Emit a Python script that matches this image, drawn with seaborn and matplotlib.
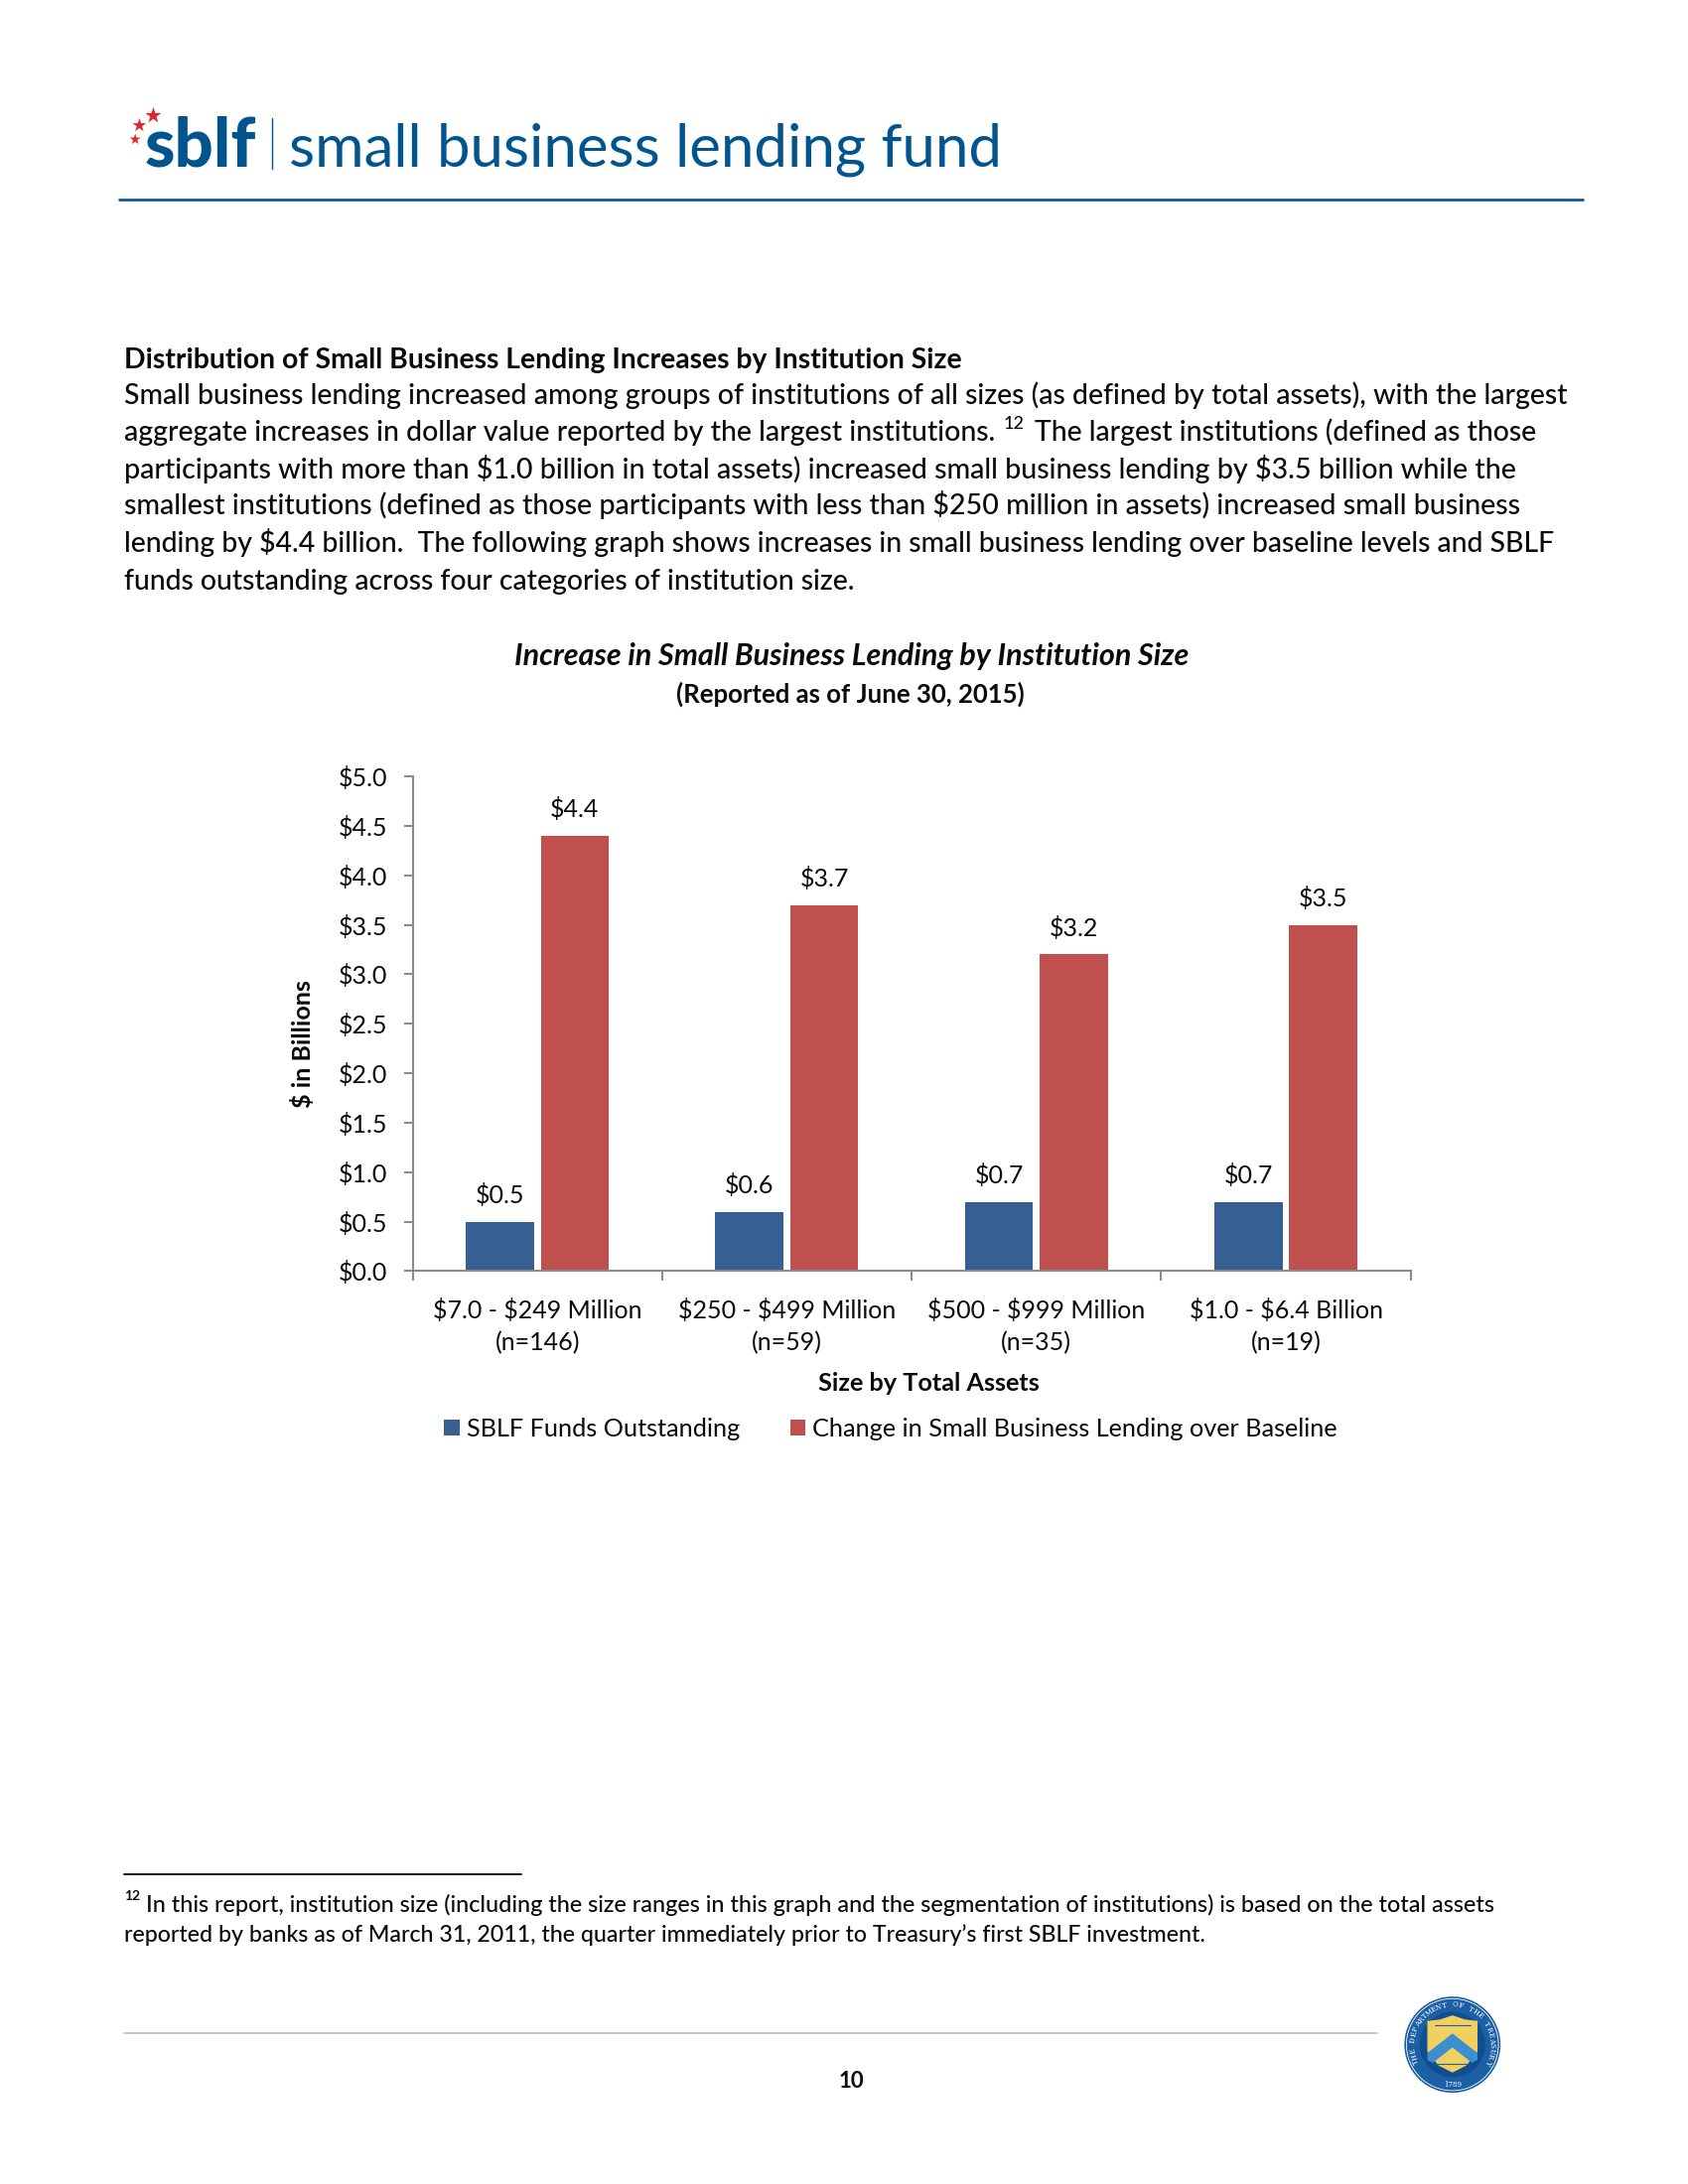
# plot.py - SBLF report page with the lending increase bar chart

import numpy as np
import pandas as pd
import matplotlib
matplotlib.use("Agg")
import matplotlib.pyplot as plt
from matplotlib.patches import Circle, Polygon
import seaborn as sns

size_labels = ["$7.0 - $249 Million\n(n=146)", "$250 - $499 Million\n(n=59)",
               "$500 - $999 Million\n(n=35)", "$1.0 - $6.4 Billion\n(n=19)"]
funds_outstanding = [0.5, 0.6, 0.7, 0.7]
lending_change = [4.4, 3.7, 3.2, 3.5]
series_names = ["SBLF Funds Outstanding", "Change in Small Business Lending over Baseline"]
y_ticks = [0.0, 0.5, 1.0, 1.5, 2.0, 2.5, 3.0, 3.5, 4.0, 4.5, 5.0]

BLUE = "#376092"
RED = "#C0504D"
LOGO = "#00558F"
GREY = "#8C8C8C"
INK = "#0A0A0A"
FONT = "Lato"
PAGE_W, PAGE_H = 1211, 1567  # page units used below
LABEL_SIZE = 18

sns.set_theme(style="white")
plt.rcParams["font.family"] = [FONT, "DejaVu Sans"]
plt.rcParams["text.parse_math"] = False

fig = plt.figure(figsize=(17, 22), dpi=100)

page = fig.add_axes([0, 0, 1, 1], zorder=0)
page.set_xlim(0, PAGE_W)
page.set_ylim(PAGE_H, 0)
page.axis("off")
renderer = fig.canvas.get_renderer()


def fit(text, x0, x1, y, **kw):
    # put a line of text so it runs from x0 to x1, hinting changes the width so measure twice
    t = page.text(x0, y, text, va="baseline", ha="left", fontsize=16, color=kw.pop("color", INK), **kw)
    target = (x1 - x0) * (1700 / PAGE_W)
    for _ in range(2):
        w = t.get_window_extent(renderer).width
        t.set_fontsize(t.get_fontsize() * target / w)
    return t


# logo
fit("sblf", 104, 184, 119, color=LOGO, fontweight="black")
page.plot([195, 195], [85, 121], color=LOGO, lw=1)
fit("small business lending fund", 207, 719, 119, color=LOGO)
page.scatter([110, 100, 97], [83, 90, 100], marker="*", s=[150, 110, 70], color="#E0242F", linewidths=0)
page.plot([85, 1136], [143.5, 143.5], color=LOGO, lw=1.9, solid_capstyle="butt")

# body text
body = dict(fontweight="medium")
fit("Distribution of Small Business Lending Increases by Institution Size", 89, 691, 264, fontweight="bold")
fit("Small business lending increased among groups of institutions of all sizes (as defined by total assets), with the largest", 89, 1127, 290, **body)
fit("aggregate increases in dollar value reported by the largest institutions.", 89, 715, 316, **body)
page.text(720, 308, "12", fontsize=13, color=INK, fontweight="medium")
fit("The largest institutions (defined as those", 742, 1101, 316, **body)
fit("participants with more than $1.0 billion in total assets) increased small business lending by $3.5 billion while the", 89, 1088, 343, **body)
fit("smallest institutions (defined as those participants with less than $250 million in assets) increased small business", 89, 1091, 369, **body)
fit("lending by $4.4 billion.  The following graph shows increases in small business lending over baseline levels and SBLF", 89, 1112, 396, **body)
fit("funds outstanding across four categories of institution size.", 89, 614, 423, **body)

# chart titles
fit("Increase in Small Business Lending by Institution Size", 369, 852, 477, fontweight="bold", fontstyle="italic")
fit("(Reported as of June 30, 2015)", 485, 736, 504, fontweight="bold")

# the chart
ax = fig.add_axes([296 / PAGE_W, 1 - 912 / PAGE_H, (1012 - 296) / PAGE_W, (912 - 557) / PAGE_H], zorder=1)
ax.patch.set_alpha(0)
df = pd.DataFrame({
    "size": size_labels * 2,
    "series": [series_names[0]] * 4 + [series_names[1]] * 4,
    "value": funds_outstanding + lending_change,
})
sns.barplot(data=df, x="size", y="value", hue="series", palette=[BLUE, RED], saturation=1,
            width=0.6, gap=0.09, linewidth=0, ax=ax)
for bars in ax.containers:
    ax.bar_label(bars, fmt="$%.1f", padding=10.5, fontsize=LABEL_SIZE, color=INK)

ax.set_xlim(-0.5, 3.5)
ax.set_ylim(0, 5)
ax.set_yticks(y_ticks)
ax.set_yticklabels([f"${v:.1f}" for v in y_ticks], fontsize=LABEL_SIZE, color=INK)
ax.set_xticks(range(4))
ax.set_xticklabels(size_labels, fontsize=LABEL_SIZE, color=INK, linespacing=1.45)
ax.set_xticks([-0.5, 0.5, 1.5, 2.5, 3.5], minor=True)
ax.tick_params(axis="x", which="major", length=0, pad=20)
ax.tick_params(axis="x", which="minor", length=7.4, width=1.5, color=GREY, direction="out", bottom=True)
ax.tick_params(axis="y", length=6.5, width=1.5, color=GREY, direction="out", left=True, pad=12)
sns.despine(ax=ax)
for side in ["left", "bottom"]:
    ax.spines[side].set_color(GREY)
    ax.spines[side].set_linewidth(1.5)
ax.set_xlabel("")
ax.set_ylabel("")
fit("Size by Total Assets", 587, 746, 998, fontweight="bold")
page.text(217, 749, "$ in Billions", rotation=90, ha="center", va="center", fontsize=LABEL_SIZE,
          fontweight="bold", color=INK)

ax.legend(loc="center", bbox_to_anchor=(0.479, -0.319), ncol=2, frameon=False, fontsize=18.2,
          handlelength=0.61, handleheight=0.61, handletextpad=0.28, columnspacing=2.0, labelcolor=INK)

# footnote
page.plot([89, 374], [1345, 1345], color="black", lw=1.3)
page.text(89, 1363, "12", fontsize=10, fontweight="bold", color=INK)
fit("In this report, institution size (including the size ranges in this graph and the segmentation of institutions) is based on the total assets", 105, 1073, 1372, **body)
fit("reported by banks as of March 31, 2011, the quarter immediately prior to Treasury’s first SBLF investment.", 89, 864, 1393, **body)

# page footer and seal
page.plot([89, 988], [1459, 1459], color="#BFBFBF", lw=1.2)
page.text(611, 1498, "10", ha="center", va="baseline", fontsize=16, fontweight="bold", color=INK)

sx, sy = 1042, 1467
page.add_patch(Circle((sx, sy), 34.5, color="#1B5FA5", lw=0))
page.add_patch(Circle((sx, sy), 33, fill=False, ec="white", lw=0.6))
page.add_patch(Circle((sx, sy), 23.5, color="#0F4F8F", lw=0))
page.add_patch(Polygon([(1024, 1450), (1033, 1449), (1042, 1446), (1051, 1449), (1060, 1450),
                        (1060, 1472), (1052, 1482), (1042, 1487), (1032, 1482), (1024, 1472)],
                       closed=True, color="#F2D060", lw=0))
page.add_patch(Polygon([(1024, 1473), (1042, 1459), (1060, 1473), (1060, 1478), (1056, 1480),
                        (1042, 1469), (1028, 1480), (1024, 1478)], closed=True, color="#3B8FD0", lw=0))
page.plot([1029, 1055], [1453, 1453], color="#1B5FA5", lw=0.8)
page.plot([1030, 1053], [1481, 1481], color="#1B5FA5", lw=0.8)

seal_text = "THE DEPARTMENT OF THE TREASURY"
for ch, ang in zip(seal_text, np.linspace(205, -25, len(seal_text))):
    rad = np.deg2rad(ang)
    page.text(sx + 28.5 * np.cos(rad), sy - 28.5 * np.sin(rad), ch, fontsize=5, color="white",
              family="DejaVu Serif", ha="center", va="center", rotation=ang - 90)
page.text(sx, sy + 28.5, "1789", fontsize=5, color="white", family="DejaVu Serif", ha="center", va="center")

fig.savefig("out.png", dpi=100)
